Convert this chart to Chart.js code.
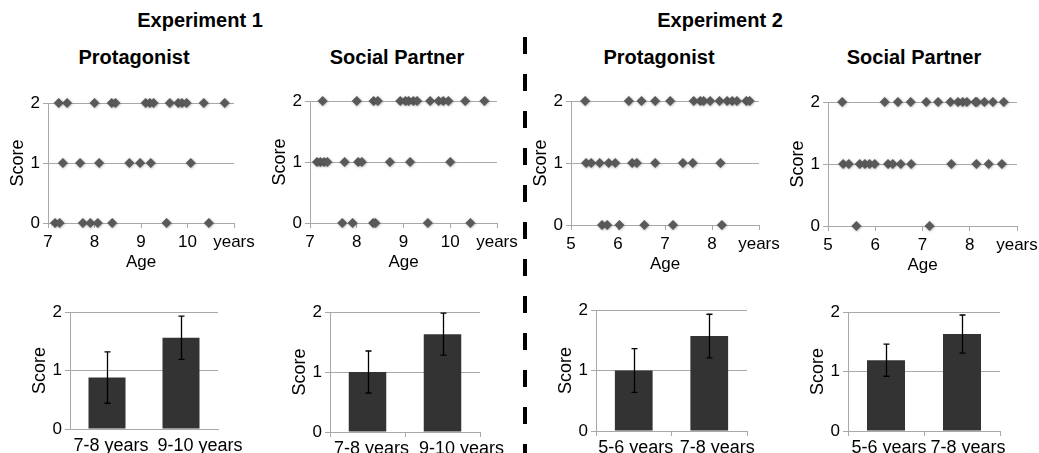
<!DOCTYPE html>
<html><head><meta charset="utf-8">
<script src="https://cdn.jsdelivr.net/npm/chart.js@4.4.1/dist/chart.umd.min.js"></script>
<style>
html,body{margin:0;padding:0;background:#fff;width:1039px;height:453px;overflow:hidden;font-family:"Liberation Sans",Arial,sans-serif;}
#wrap{position:relative;width:1039px;height:453px;overflow:hidden;}
canvas{position:absolute;}
.t{position:absolute;font-weight:bold;font-size:20px;color:#000;transform:translate(-50%,-50%);white-space:nowrap;line-height:1;}
#divider{position:absolute;left:523px;top:37px;width:4px;height:416px;background:repeating-linear-gradient(to bottom,#000 0px,#000 17px,transparent 17px,transparent 37px);}
</style></head>
<body>
<div id="wrap">
  <div class="t" style="left:200px;top:20px">Experiment 1</div>
  <div class="t" style="left:720px;top:20px">Experiment 2</div>
  <div class="t" style="left:134px;top:57px">Protagonist</div>
  <div class="t" style="left:397px;top:57px">Social Partner</div>
  <div class="t" style="left:659px;top:57px">Protagonist</div>
  <div class="t" style="left:914px;top:57px">Social Partner</div>
  <div id="divider"></div>
  <canvas id="s1"></canvas><canvas id="s2"></canvas><canvas id="s3"></canvas><canvas id="s4"></canvas>
  <canvas id="b1"></canvas><canvas id="b2"></canvas><canvas id="b3"></canvas><canvas id="b4"></canvas>
</div>
<script>
// ---------- DATA ----------
// Experiment 1, Protagonist: ages (years) of children at each score
const e1ProtScore2 = [7.23, 7.41, 8.0, 8.37, 8.45, 9.1, 9.19, 9.27, 9.62, 9.8, 9.88, 9.98, 10.35, 10.8];
const e1ProtScore1 = [7.32, 7.69, 8.1, 8.75, 8.98, 9.21, 10.07];
const e1ProtScore0 = [7.15, 7.25, 7.75, 7.91, 8.07, 8.38, 9.55, 10.46];
// Experiment 1, Social Partner
const e1SocScore2 = [7.27, 8.0, 8.36, 8.45, 8.93, 9.04, 9.11, 9.21, 9.29, 9.57, 9.75, 9.85, 9.96, 10.32, 10.73];
const e1SocScore1 = [7.15, 7.22, 7.3, 7.37, 7.74, 8.03, 8.11, 8.71, 9.14, 10.0];
const e1SocScore0 = [7.69, 7.91, 8.35, 8.4, 9.52, 10.43];
// Experiment 2, Protagonist
const e2ProtScore2 = [5.3, 6.23, 6.5, 6.79, 7.11, 7.61, 7.75, 7.82, 7.96, 8.16, 8.32, 8.43, 8.53, 8.73, 8.8];
const e2ProtScore1 = [5.32, 5.43, 5.61, 5.8, 5.94, 6.3, 6.4, 6.79, 7.38, 7.59, 8.18];
const e2ProtScore0 = [5.66, 5.77, 6.03, 6.56, 7.17, 8.21];
// Experiment 2, Social Partner
const e2SocScore2 = [5.3, 6.2, 6.48, 6.75, 7.08, 7.33, 7.59, 7.75, 7.85, 7.94, 8.12, 8.15, 8.31, 8.49, 8.72];
const e2SocScore1 = [5.32, 5.44, 5.67, 5.78, 5.88, 5.99, 6.27, 6.37, 6.54, 6.76, 7.61, 8.14, 8.4, 8.68];
const e2SocScore0 = [5.6, 7.15];

// Age axis ticks (last tick labelled "years")
const e1AgeTicks = ['7', '8', '9', '10', 'years'];
const e2AgeTicks = ['5', '6', '7', '8', 'years'];
const scoreTicks = [0, 1, 2];

// Bar charts: age groups, mean scores, error bar half-lengths
const e1Groups = ['7-8 years', '9-10 years'];
const e2Groups = ['5-6 years', '7-8 years'];
const e1ProtMeans = [0.88, 1.56];
const e1ProtErrors = [0.44, 0.37];
const e1SocMeans = [1.0, 1.63];
const e1SocErrors = [0.35, 0.35];
const e2ProtMeans = [1.0, 1.57];
const e2ProtErrors = [0.36, 0.36];
const e2SocMeans = [1.19, 1.63];
const e2SocErrors = [0.27, 0.32];

// ---------- LAYOUT / STYLE ----------
Chart.defaults.font.family = '"Liberation Sans", Arial, sans-serif';
Chart.defaults.color = '#000';
const GRID = '#a8a8a8';
const POINT = '#595959';
const BAR = '#333333';

function placeCanvas(cv, rect, WY, T, R, HX) {
  const [l, t, r, b] = rect;
  const w = Math.round(r - l + WY + R), h = Math.round(b - t + T + HX);
  cv.style.left = (l - WY) + 'px';
  cv.style.top = (t - T) + 'px';
  cv.width = w; cv.height = h;
  cv.style.width = w + 'px'; cv.style.height = h + 'px';
}

const softShadow = {
  id: 'softShadow',
  beforeDatasetsDraw(chart) {
    const ctx = chart.ctx;
    ctx.save();
    ctx.shadowColor = 'rgba(0,0,0,0.35)';
    ctx.shadowBlur = 2.5;
    ctx.shadowOffsetX = 0.5;
    ctx.shadowOffsetY = 0.5;
  },
  afterDatasetsDraw(chart) { chart.ctx.restore(); }
};

function scatterChart(id, rect, xmin, tickLabels, s0, s1, s2) {
  const WY = 46, T = 14, R = 34, HX = 50;
  const cv = document.getElementById(id);
  placeCanvas(cv, rect, WY, T, R, HX);
  const pts = [].concat(
    s0.map(x => ({x: x, y: scoreTicks[0]})),
    s1.map(x => ({x: x, y: scoreTicks[1]})),
    s2.map(x => ({x: x, y: scoreTicks[2]})));
  new Chart(cv, {
    type: 'scatter',
    data: {datasets: [{data: pts, pointStyle: 'rectRot', pointRadius: 5,
      backgroundColor: POINT, borderColor: POINT, borderWidth: 0, clip: false}]},
    plugins: [softShadow],
    options: {
      responsive: false, animation: false, devicePixelRatio: 1,
      layout: {padding: {left: 0, top: T, right: R, bottom: 0}},
      plugins: {legend: {display: false}, tooltip: {enabled: false}},
      scales: {
        x: {type: 'linear', min: xmin, max: xmin + tickLabels.length - 1,
          afterFit(s) { s.height = HX; },
          ticks: {stepSize: 1, autoSkip: false, maxRotation: 0, padding: 4,
            font: {size: 17}, color: '#000',
            callback: (v) => tickLabels[Math.round(v - xmin)]},
          grid: {drawOnChartArea: false, tickLength: 5, color: GRID},
          border: {color: GRID},
          title: {display: true, text: 'Age', font: {size: 17}, color: '#000', padding: {top: 0, bottom: 0}}},
        y: {min: 0, max: 2,
          afterFit(s) { s.width = WY; },
          ticks: {stepSize: 1, padding: 3, font: {size: 17}, color: '#000'},
          grid: {color: GRID, tickLength: 5},
          border: {color: GRID},
          title: {display: true, text: 'Score', font: {size: 18}, color: '#000', padding: {top: 5, bottom: 0}}}
      }
    }
  });
}

const errorBars = {
  id: 'errbars',
  afterDatasetsDraw(chart) {
    const errs = chart.options.plugins.errbars.errors;
    const meta = chart.getDatasetMeta(0);
    const ys = chart.scales.y;
    const vals = chart.data.datasets[0].data;
    const ctx = chart.ctx;
    ctx.save();
    ctx.strokeStyle = '#000'; ctx.lineWidth = 1.3;
    meta.data.forEach((bar, i) => {
      const top = ys.getPixelForValue(vals[i] + errs[i]);
      const bot = ys.getPixelForValue(vals[i] - errs[i]);
      const x = Math.round(bar.x) + 0.5, cap = 3;
      ctx.beginPath();
      ctx.moveTo(x, top); ctx.lineTo(x, bot);
      ctx.moveTo(x - cap, top); ctx.lineTo(x + cap, top);
      ctx.moveTo(x - cap, bot); ctx.lineTo(x + cap, bot);
      ctx.stroke();
    });
    ctx.restore();
  }
};

// horizontal nudge of the category labels (the original staggers them to avoid overlap)
const labelShift = {
  id: 'labelShift',
  beforeDraw(chart) {
    const offs = chart.options.plugins.labelShift.offsets;
    const items = chart.scales.x.getLabelItems(chart.chartArea);
    items.forEach((it, i) => {
      if (!it._shifted) { it.options.translation[0] += offs[i] || 0; it._shifted = true; }
    });
  }
};

function barChart(id, rect, labels, means, errs, showTicks, offsets) {
  const WY = 46, T = 14, R = 50, HX = 30;
  const cv = document.getElementById(id);
  placeCanvas(cv, rect, WY, T, R, HX);
  new Chart(cv, {
    type: 'bar',
    data: {labels: labels, datasets: [{data: means, backgroundColor: BAR, borderWidth: 0,
      barPercentage: 0.5, categoryPercentage: 1.0}]},
    plugins: [errorBars, labelShift],
    options: {
      responsive: false, animation: false, devicePixelRatio: 1,
      layout: {padding: {left: 0, top: T, right: R, bottom: 0}},
      plugins: {legend: {display: false}, tooltip: {enabled: false},
        errbars: {errors: errs}, labelShift: {offsets: offsets}},
      scales: {
        x: {afterFit(s) { s.height = HX; },
          ticks: {autoSkip: false, maxRotation: 0, minRotation: 0, padding: showTicks ? 1 : 6,
            font: {size: 18}, color: '#000'},
          grid: {drawOnChartArea: false, drawTicks: showTicks, tickLength: 5, color: GRID, offset: true},
          border: {color: GRID}},
        y: {min: 0, max: 2,
          afterFit(s) { s.width = WY; },
          ticks: {stepSize: 1, padding: 3, font: {size: 17}, color: '#000'},
          grid: {color: GRID, tickLength: 5},
          border: {color: GRID},
          title: {display: true, text: 'Score', font: {size: 18}, color: '#000', padding: {top: 5, bottom: 0}}}
      }
    }
  });
}

// plot rectangles [left, top, right, bottom] in page pixels
const layoutS = {s1: [48, 102.7, 234, 222.7], s2: [310, 101, 496.7, 222.7],
                 s3: [570.7, 100.7, 758.7, 225], s4: [828.3, 101.7, 1017.7, 225.7]};
const layoutB = {b1: [70, 311.7, 218.3, 428.3], b2: [330, 311.7, 480, 431.7],
                 b3: [596, 310, 746.7, 430.7], b4: [848.3, 312.3, 1000, 431.7]};

scatterChart('s1', layoutS.s1, 7, e1AgeTicks, e1ProtScore0, e1ProtScore1, e1ProtScore2);
scatterChart('s2', layoutS.s2, 7, e1AgeTicks, e1SocScore0, e1SocScore1, e1SocScore2);
scatterChart('s3', layoutS.s3, 5, e2AgeTicks, e2ProtScore0, e2ProtScore1, e2ProtScore2);
scatterChart('s4', layoutS.s4, 5, e2AgeTicks, e2SocScore0, e2SocScore1, e2SocScore2);

barChart('b1', layoutB.b1, e1Groups, e1ProtMeans, e1ProtErrors, false, [4, 19]);
barChart('b2', layoutB.b2, e1Groups, e1SocMeans, e1SocErrors, true, [4, 19]);
barChart('b3', layoutB.b3, e2Groups, e2ProtMeans, e2ProtErrors, true, [2, 8]);
barChart('b4', layoutB.b4, e2Groups, e2SocMeans, e2SocErrors, true, [3, 6]);
</script>
</body></html>
